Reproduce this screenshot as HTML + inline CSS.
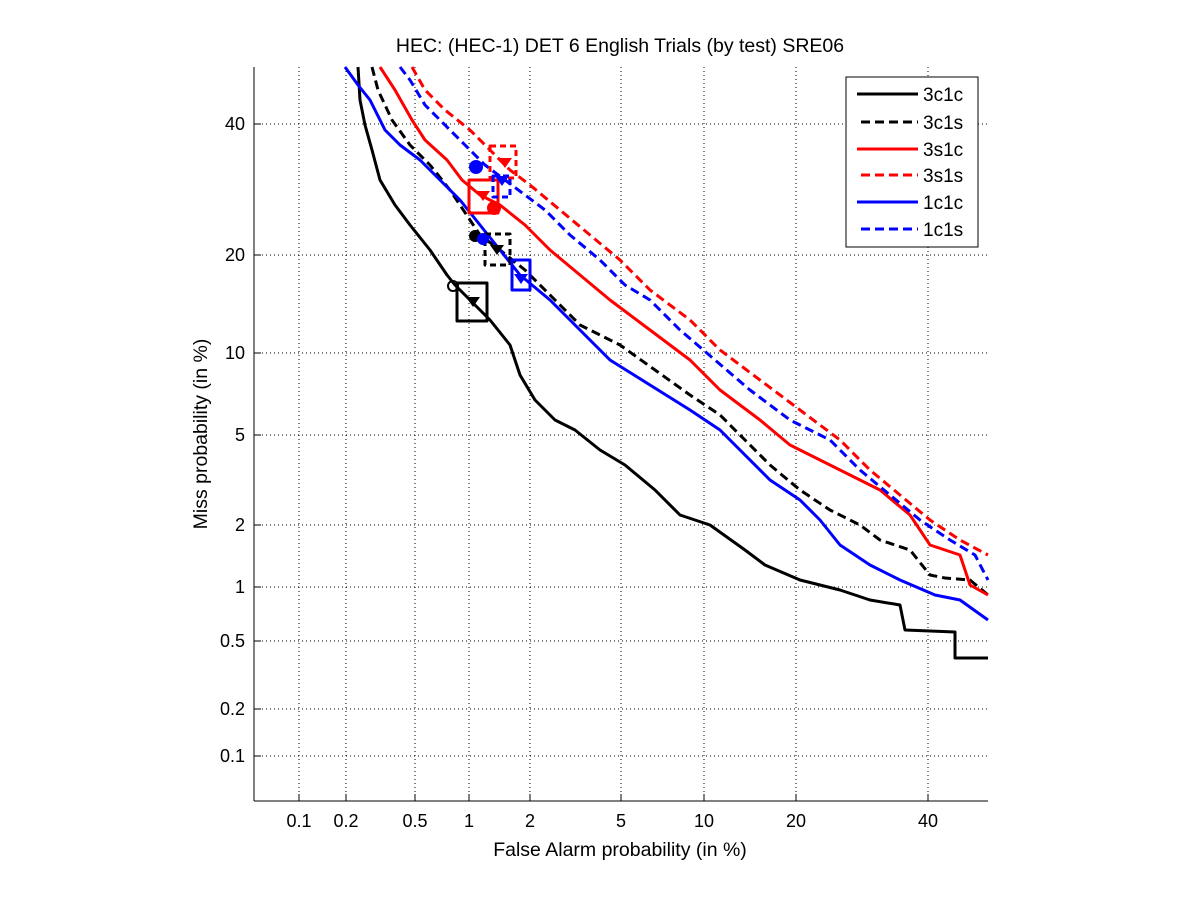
<!DOCTYPE html>
<html><head><meta charset="utf-8"><style>body{margin:0;background:#fff}svg{display:block}text{font-family:"Liberation Sans",sans-serif}</style></head>
<body>
<svg width="1201" height="900" viewBox="0 0 1201 900">
<rect width="1201" height="900" fill="#fff"/>
<g stroke="#000" stroke-width="1" stroke-dasharray="1,3">
<line x1="299" y1="67" x2="299" y2="801"/><line x1="346" y1="67" x2="346" y2="801"/><line x1="415" y1="67" x2="415" y2="801"/><line x1="469" y1="67" x2="469" y2="801"/><line x1="530" y1="67" x2="530" y2="801"/><line x1="621" y1="67" x2="621" y2="801"/><line x1="704" y1="67" x2="704" y2="801"/><line x1="796" y1="67" x2="796" y2="801"/><line x1="928" y1="67" x2="928" y2="801"/>
<line x1="254" y1="124" x2="988" y2="124"/><line x1="254" y1="255" x2="988" y2="255"/><line x1="254" y1="353" x2="988" y2="353"/><line x1="254" y1="435" x2="988" y2="435"/><line x1="254" y1="525" x2="988" y2="525"/><line x1="254" y1="587" x2="988" y2="587"/><line x1="254" y1="641" x2="988" y2="641"/><line x1="254" y1="709" x2="988" y2="709"/><line x1="254" y1="756" x2="988" y2="756"/>
</g>
<g stroke="#000" stroke-width="1">
<line x1="254" y1="67" x2="254" y2="801"/><line x1="254" y1="801" x2="988" y2="801"/>
<path d="M299 801v-7M346 801v-7M415 801v-7M469 801v-7M530 801v-7M621 801v-7M704 801v-7M796 801v-7M928 801v-7M254 124h7M254 255h7M254 353h7M254 435h7M254 525h7M254 587h7M254 641h7M254 709h7M254 756h7"/>
</g>
<g font-size="18" text-anchor="middle">
<text x="299" y="827">0.1</text><text x="346" y="827">0.2</text><text x="415" y="827">0.5</text><text x="469" y="827">1</text><text x="530" y="827">2</text><text x="621" y="827">5</text><text x="704" y="827">10</text><text x="796" y="827">20</text><text x="928" y="827">40</text>
</g>
<g font-size="18" text-anchor="end">
<text x="245" y="130">40</text><text x="245" y="261">20</text><text x="245" y="359">10</text><text x="245" y="441">5</text><text x="245" y="531">2</text><text x="245" y="593">1</text><text x="245" y="647">0.5</text><text x="245" y="715">0.2</text><text x="245" y="762">0.1</text>
</g>
<text x="620" y="52" font-size="19.5" text-anchor="middle">HEC: (HEC-1) DET 6 English Trials (by test) SRE06</text>
<text x="620" y="856" font-size="19.5" text-anchor="middle">False Alarm probability (in %)</text>
<text transform="translate(207,434) rotate(-90)" font-size="19.5" text-anchor="middle">Miss probability (in %)</text>
<g fill="none" stroke-width="3" stroke-linejoin="round">
<polyline stroke="#000" points="358,67 360,100 365,125 372,150 380,180 395,205 410,225 430,250 447,275 455,285 470,300 490,320 510,345 520,375 535,400 555,420 575,430 600,450 625,465 655,490 680,515 710,525 745,550 765,565 800,580 840,590 870,600 900,605 905,630 955,632 955,658 988,658"/>
<polyline stroke="#000" stroke-dasharray="9,5" points="372,67 378,90 392,120 410,145 430,165 450,190 470,220 480,235 500,250 525,270 555,300 580,325 620,345 655,370 690,395 720,415 745,440 770,465 800,490 830,510 860,525 880,540 910,550 930,575 945,578 970,580 988,595"/>
<polyline stroke="#f00" points="380,67 395,90 412,120 425,140 447,160 462,180 480,195 500,205 525,225 550,250 580,275 610,300 650,330 690,360 720,390 760,420 790,445 820,460 850,475 880,490 910,515 930,545 960,555 970,585 988,595"/>
<polyline stroke="#f00" stroke-dasharray="9,5" points="412,67 425,90 445,110 470,130 490,150 510,170 530,185 560,210 590,235 620,260 650,290 690,320 720,350 760,380 800,410 840,440 870,470 900,495 930,520 960,540 988,555"/>
<polyline stroke="#00f" points="345,67 358,85 370,100 385,130 400,145 420,160 440,180 460,200 480,225 500,250 520,275 550,300 580,330 610,360 650,385 690,410 720,430 745,455 770,480 800,500 820,520 840,545 870,565 900,580 935,595 960,600 988,620"/>
<polyline stroke="#00f" stroke-dasharray="9,5" points="400,67 410,80 425,105 445,125 465,145 485,165 505,180 525,195 545,210 570,235 600,260 625,285 650,300 680,330 715,360 750,390 790,420 830,440 860,470 890,495 920,520 950,540 975,555 988,580"/>
<rect x="457" y="283" width="30" height="38" stroke="#000"/>
<rect x="485" y="234" width="25" height="31" stroke="#000" stroke-dasharray="6,4"/>
<rect x="512" y="260" width="18" height="30" stroke="#00f"/>
<rect x="469" y="180" width="29" height="33" stroke="#f00"/>
<rect x="490" y="146" width="26" height="32" stroke="#f00" stroke-dasharray="6,4"/>
<rect x="493" y="176" width="17" height="21" stroke="#00f" stroke-dasharray="6,4"/>
</g>
<g stroke-width="2">
<circle cx="453" cy="286" r="5" fill="none" stroke="#000"/>
<circle cx="475" cy="236" r="5" fill="#000" stroke="#000"/>
<circle cx="483" cy="239" r="5" fill="#00f" stroke="#00f"/>
<circle cx="494" cy="208" r="6" fill="#f00" stroke="#f00"/>
<circle cx="476" cy="167" r="6" fill="#00f" stroke="#00f"/>
</g>
<g>
<path d="M466,297h14l-7,10z" fill="#000"/>
<path d="M490,245h14l-7,10z" fill="#000"/>
<path d="M514,274h14l-7,10z" fill="#00f"/>
<path d="M476,191h14l-7,10z" fill="#f00"/>
<path d="M498,158h14l-7,10z" fill="#f00"/>
<path d="M495,176h14l-7,10z" fill="#00f"/>
</g>
<rect x="846" y="77" width="132" height="170" fill="#fff" stroke="#000"/>
<g stroke-width="3">
<line x1="857" y1="94" x2="918" y2="94" stroke="#000"/>
<line x1="861" y1="122" x2="918" y2="122" stroke="#000" stroke-dasharray="9,5"/>
<line x1="857" y1="149" x2="918" y2="149" stroke="#f00"/>
<line x1="861" y1="175" x2="918" y2="175" stroke="#f00" stroke-dasharray="9,5"/>
<line x1="857" y1="202" x2="918" y2="202" stroke="#00f"/>
<line x1="861" y1="229" x2="918" y2="229" stroke="#00f" stroke-dasharray="9,5"/>
</g>
<g font-size="19">
<text x="923" y="101">3c1c</text><text x="923" y="129">3c1s</text><text x="923" y="156">3s1c</text><text x="923" y="182">3s1s</text><text x="923" y="209">1c1c</text><text x="923" y="236">1c1s</text>
</g>
</svg>
</body></html>
